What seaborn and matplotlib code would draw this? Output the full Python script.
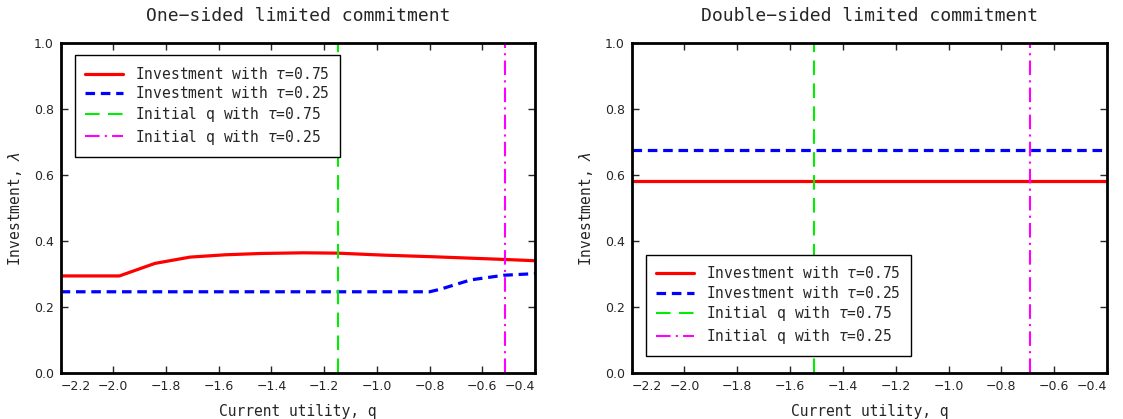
import numpy as np
import pandas as pd
import seaborn as sns
import matplotlib
matplotlib.use("Agg")
import matplotlib.pyplot as plt

# one-sided commitment
q_one = [-2.2, -1.977, -1.842, -1.709, -1.576, -1.44, -1.28, -1.15, -0.975, -0.784, -0.519, -0.4]
inv_one_75 = [0.295, 0.295, 0.333, 0.352, 0.359, 0.363, 0.365, 0.364, 0.358, 0.353, 0.345, 0.341]
q_one_25 = [-2.2, -0.8, -0.758, -0.644, -0.519, -0.4]
inv_one_25 = [0.247, 0.247, 0.255, 0.283, 0.297, 0.302]
init_one = {"0.75": -1.147, "0.25": -0.515}

# double-sided commitment: flat investment
q_two = [-2.2, -0.4]
inv_two_75 = [0.581, 0.581]
inv_two_25 = [0.675, 0.675]
init_two = {"0.75": -1.51, "0.25": -0.69}

titles = ["One\u2212sided limited commitment", "Double\u2212sided limited commitment"]
xticks = [-2.2, -2.0, -1.8, -1.6, -1.4, -1.2, -1.0, -0.8, -0.6, -0.4]
yticks = [0.0, 0.2, 0.4, 0.6, 0.8, 1.0]

sns.set_style("ticks", {"xtick.direction": "in", "ytick.direction": "in"})
mono = "DejaVu Sans Mono"

fig = plt.figure(figsize=(11.23, 4.19), dpi=100)
ax1 = fig.add_axes([0.054, 0.109, 0.4224, 0.788])
ax2 = fig.add_axes([0.5625, 0.109, 0.4232, 0.788])

panels = [
    (ax1, q_one, inv_one_75, q_one_25, inv_one_25, init_one, "upper left", (0.015, 0.985)),
    (ax2, q_two, inv_two_75, q_two, inv_two_25, init_two, "lower left", (0.015, 0.03)),
]

for i, (ax, qa, ya, qb, yb, init, loc, anchor) in enumerate(panels):
    sns.lineplot(x=qa, y=ya, ax=ax, color="red", lw=2.3,
                 label="Investment with $\\tau$=0.75")
    sns.lineplot(x=qb, y=yb, ax=ax, color="blue", lw=2.3, dashes=False,
                 label="Investment with $\\tau$=0.25")
    ax.lines[-1].set_dashes([3, 1.8])
    ax.axvline(init["0.75"], color="#00ee00", lw=1.5, dashes=(7, 4),
               label="Initial q with $\\tau$=0.75")
    ax.axvline(init["0.25"], color="magenta", lw=1.5, dashes=(7, 2.5, 1, 2.5),
               label="Initial q with $\\tau$=0.25")

    ax.set_xticks(xticks)
    ax.set_yticks(yticks)
    ax.set_xticklabels([f"{t:.1f}".replace("-", "\u2212") for t in xticks], fontsize=9)
    ax.set_yticklabels([f"{t:.1f}" for t in yticks], fontsize=9)
    ax.set_xlim(-2.2, -0.4)
    ax.set_ylim(0, 1)
    labs = ax.get_xticklabels()
    labs[0].set_ha("left")
    labs[-1].set_ha("right")
    ax.tick_params(top=True, right=True, length=5, width=1, pad=5)
    for s in ax.spines.values():
        s.set_linewidth(2)
        s.set_color("black")

    ax.set_title(titles[i], fontsize=13, family=mono, pad=16)
    ax.set_xlabel("Current utility, q", fontsize=10.5, family=mono, labelpad=8)
    ax.set_ylabel("Investment, $\\lambda$", fontsize=10.5, family=mono, labelpad=7)

    leg = ax.legend(loc=loc, bbox_to_anchor=anchor, fancybox=False, framealpha=1,
                    edgecolor="black", prop={"family": mono, "size": 10.5},
                    handlelength=2.6, borderpad=0.7, labelspacing=0.25)
    leg.get_frame().set_linewidth(1)

fig.savefig("out.png", dpi=100)
